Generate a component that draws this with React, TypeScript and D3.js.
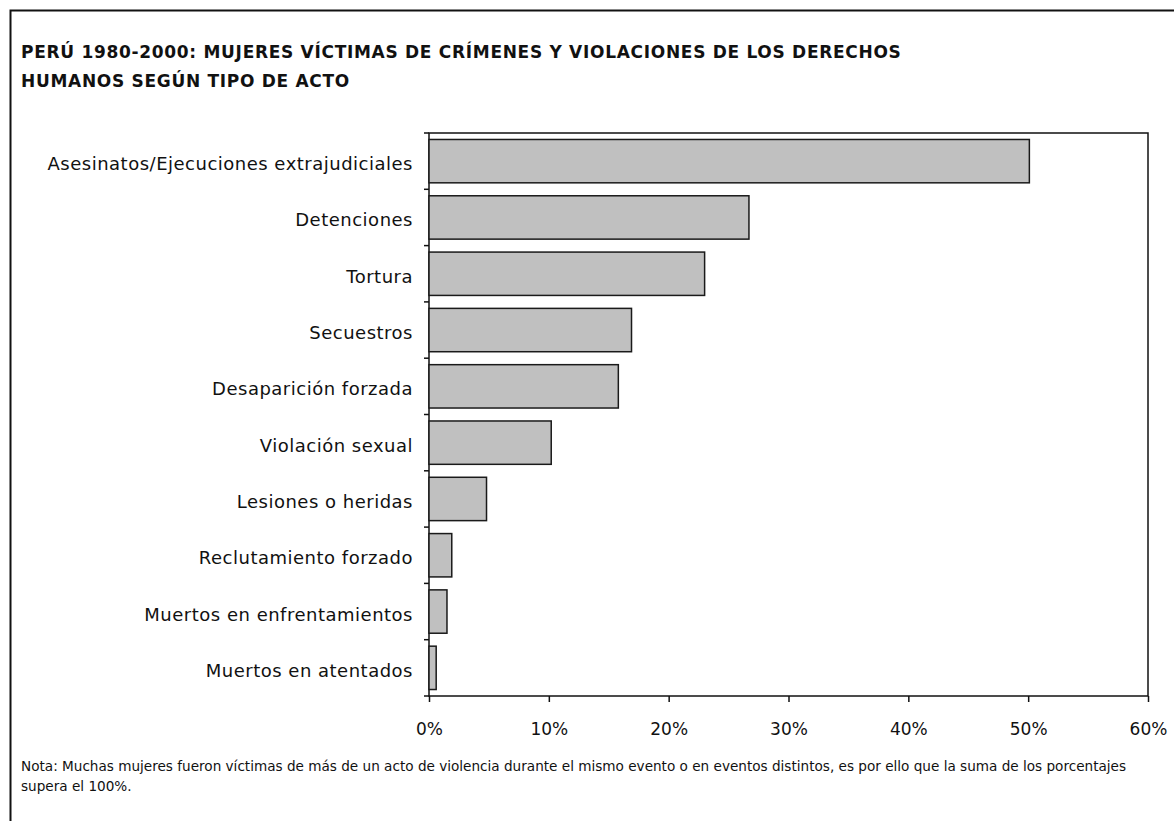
import React, { useRef, useEffect } from 'react';
import * as d3 from 'd3';

const title1 = 'PERÚ 1980-2000: MUJERES VÍCTIMAS DE CRÍMENES Y VIOLACIONES DE LOS DERECHOS';
const title2 = 'HUMANOS SEGÚN TIPO DE ACTO';
const note1 = 'Nota: Muchas mujeres fueron víctimas de más de un acto de violencia durante el mismo evento o en eventos distintos,  es por ello que la suma de los porcentajes';
const note2 = 'supera el 100%.';

const categories = [
  'Asesinatos/Ejecuciones extrajudiciales',
  'Detenciones',
  'Tortura',
  'Secuestros',
  'Desaparición forzada',
  'Violación sexual',
  'Lesiones o heridas',
  'Reclutamiento forzado',
  'Muertos en enfrentamientos',
  'Muertos en atentados',
];
const values = [0.501, 0.267, 0.23, 0.169, 0.158, 0.102, 0.048, 0.019, 0.015, 0.006];
const xTicks = [0, 0.1, 0.2, 0.3, 0.4, 0.5, 0.6];

const FONT = 'Tahoma, "DejaVu Sans", sans-serif';

export default function App() {
  const svgRef = useRef(null);

  useEffect(() => {
    const W = 1174, H = 821;
    const left = 429, right = 1148, top = 133, bottom = 696;

    const svg = d3.select(svgRef.current);
    svg.selectAll('*').remove();

    // outer frame (runs off the page on the right and bottom)
    svg.append('rect')
      .attr('x', 10.5).attr('y', 10.5)
      .attr('width', W + 20).attr('height', H + 20)
      .attr('fill', 'white')
      .attr('stroke', '#111')
      .attr('stroke-width', 2);

    // title
    const t = svg.append('text')
      .attr('font-family', FONT)
      .attr('font-weight', 'bold')
      .attr('font-size', 17)
      .attr('letter-spacing', 0.7)
      .attr('fill', '#111');
    t.append('tspan').attr('x', 21).attr('y', 58).text(title1);
    t.append('tspan').attr('x', 21).attr('y', 87).text(title2);

    // scales
    const x = d3.scaleLinear().domain([0, 0.6]).range([left, right]);
    const y = d3.scaleBand()
      .domain(categories)
      .range([top, bottom])
      .paddingInner(0.23)
      .paddingOuter(0.115);

    // plot box
    svg.append('rect')
      .attr('x', left).attr('y', top)
      .attr('width', right - left).attr('height', bottom - top)
      .attr('fill', 'none')
      .attr('stroke', '#111')
      .attr('stroke-width', 1.5);

    // bars
    svg.selectAll('.bar')
      .data(values)
      .enter()
      .append('rect')
      .attr('class', 'bar')
      .attr('x', x(0))
      .attr('y', (d, i) => y(categories[i]))
      .attr('width', d => x(d) - x(0))
      .attr('height', y.bandwidth())
      .attr('fill', '#c0c0c0')
      .attr('stroke', '#1a1a1a')
      .attr('stroke-width', 1.5);

    // y-axis ticks on category boundaries
    const step = y.step();
    const bounds = d3.range(categories.length + 1).map(i => top + i * step);
    svg.selectAll('.ytick')
      .data(bounds)
      .enter()
      .append('line')
      .attr('x1', left - 5).attr('x2', left)
      .attr('y1', d => d).attr('y2', d => d)
      .attr('stroke', '#111')
      .attr('stroke-width', 1.5);

    svg.selectAll('.ylab')
      .data(categories)
      .enter()
      .append('text')
      .attr('x', 413)
      .attr('y', d => y(d) + y.bandwidth() / 2)
      .attr('dy', '0.5em')
      .attr('text-anchor', 'end')
      .attr('font-family', FONT)
      .attr('font-size', 18)
      .attr('letter-spacing', 0.5)
      .attr('fill', '#111')
      .text(d => d);

    // x-axis
    const xAxis = svg.append('g')
      .attr('transform', `translate(0,${bottom})`)
      .call(d3.axisBottom(x).tickValues(xTicks).tickFormat(d3.format('.0%')).tickSize(6).tickPadding(21));
    xAxis.select('.domain').remove();
    xAxis.selectAll('line').attr('stroke', '#111').attr('stroke-width', 1.5);
    xAxis.selectAll('text')
      .attr('font-family', FONT)
      .attr('font-size', 17)
      .attr('fill', '#111');

    // note
    const n = svg.append('text')
      .attr('font-family', FONT)
      .attr('font-size', 13.6)
      .attr('fill', '#111');
    n.append('tspan').attr('x', 21).attr('y', 771).text(note1);
    n.append('tspan').attr('x', 21).attr('y', 791).text(note2);
  }, []);

  return (
    <svg ref={svgRef} width={1174} height={821}
      style={{ position: 'absolute', left: 0, top: 0, background: 'white' }} />
  );
}
